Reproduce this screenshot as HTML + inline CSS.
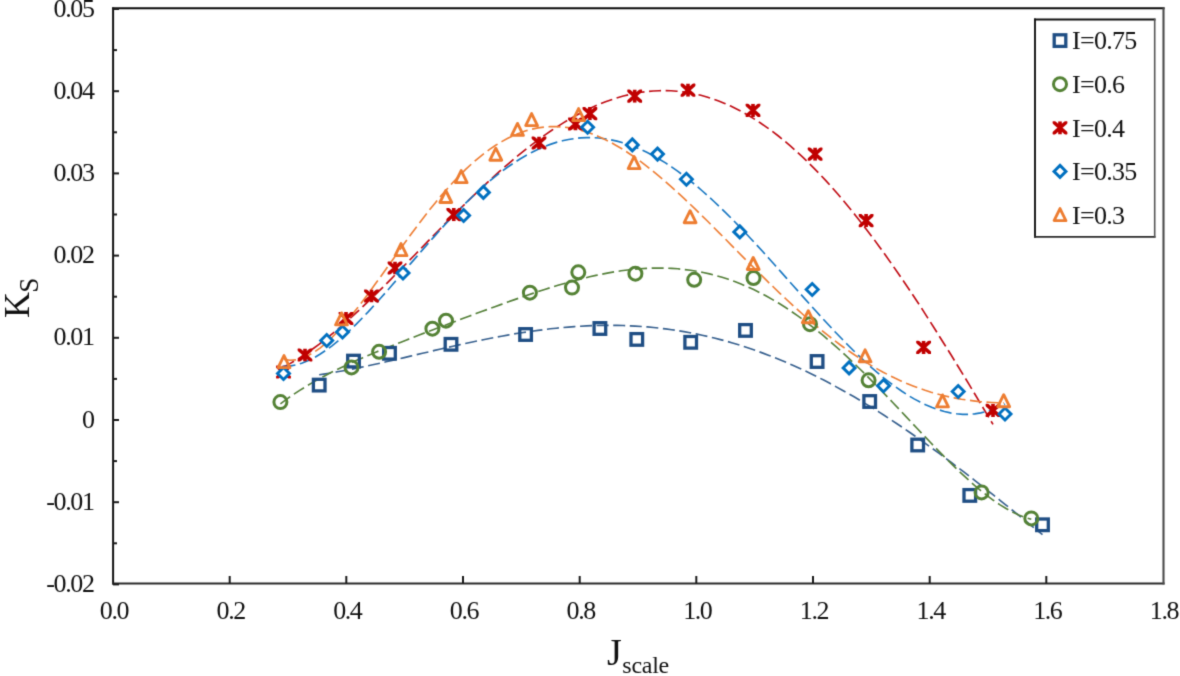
<!DOCTYPE html>
<html><head><meta charset="utf-8"><style>
html,body{margin:0;padding:0;background:#fff;}
body{width:1180px;height:676px;overflow:hidden;}
svg{display:block;}
.t{font-family:"Liberation Serif",serif;font-size:26px;fill:#111;letter-spacing:-1.4px;}
.lg{letter-spacing:-0.7px;}
.sub{font-family:"Liberation Serif",serif;font-size:24px;fill:#111;}
.big{font-family:"Liberation Serif",serif;font-size:36px;fill:#111;}
</style></head><body>
<svg width="1180" height="676" viewBox="0 0 1180 676">
<defs><clipPath id="cb" clipPathUnits="objectBoundingBox"><rect x="0" y="0" width="1" height="1"/></clipPath>
<filter id="bl" x="0" y="0" width="1180" height="676" filterUnits="userSpaceOnUse" color-interpolation-filters="sRGB"><feConvolveMatrix order="3" kernelMatrix="0.019 0.1 0.019 0.1 0.524 0.1 0.019 0.1 0.019" edgeMode="duplicate"/></filter></defs>
<g filter="url(#bl)"><rect width="1180" height="676" fill="#fff"/>
<path d="M112.1,8.3 H1164.6" stroke="#0a0a0a" stroke-width="1.9"/>
<path d="M113.1,7.4 V584.5" stroke="#111" stroke-width="2"/>
<path d="M112.1,583.5 H1164.6" stroke="#2a2a2a" stroke-width="2"/>
<path d="M1163.5,7.4 V584.5" stroke="#4a4a4a" stroke-width="2.1"/>
<line x1="113" y1="9.0" x2="119" y2="9.0" stroke="#1a1a1a" stroke-width="2"/>
<line x1="113" y1="50.1" x2="117" y2="50.1" stroke="#1a1a1a" stroke-width="2"/>
<line x1="113" y1="91.2" x2="119" y2="91.2" stroke="#1a1a1a" stroke-width="2"/>
<line x1="113" y1="132.3" x2="117" y2="132.3" stroke="#1a1a1a" stroke-width="2"/>
<line x1="113" y1="173.4" x2="119" y2="173.4" stroke="#1a1a1a" stroke-width="2"/>
<line x1="113" y1="214.5" x2="117" y2="214.5" stroke="#1a1a1a" stroke-width="2"/>
<line x1="113" y1="255.6" x2="119" y2="255.6" stroke="#1a1a1a" stroke-width="2"/>
<line x1="113" y1="296.7" x2="117" y2="296.7" stroke="#1a1a1a" stroke-width="2"/>
<line x1="113" y1="337.8" x2="119" y2="337.8" stroke="#1a1a1a" stroke-width="2"/>
<line x1="113" y1="378.9" x2="117" y2="378.9" stroke="#1a1a1a" stroke-width="2"/>
<line x1="113" y1="420.0" x2="119" y2="420.0" stroke="#1a1a1a" stroke-width="2"/>
<line x1="113" y1="461.1" x2="117" y2="461.1" stroke="#1a1a1a" stroke-width="2"/>
<line x1="113" y1="502.2" x2="119" y2="502.2" stroke="#1a1a1a" stroke-width="2"/>
<line x1="113" y1="543.3" x2="117" y2="543.3" stroke="#1a1a1a" stroke-width="2"/>
<line x1="113" y1="584.4" x2="119" y2="584.4" stroke="#1a1a1a" stroke-width="2"/>
<line x1="229.7" y1="583.5" x2="229.7" y2="576" stroke="#1a1a1a" stroke-width="2"/>
<line x1="346.3" y1="583.5" x2="346.3" y2="576" stroke="#1a1a1a" stroke-width="2"/>
<line x1="463.0" y1="583.5" x2="463.0" y2="576" stroke="#1a1a1a" stroke-width="2"/>
<line x1="579.7" y1="583.5" x2="579.7" y2="576" stroke="#1a1a1a" stroke-width="2"/>
<line x1="696.3" y1="583.5" x2="696.3" y2="576" stroke="#1a1a1a" stroke-width="2"/>
<line x1="813.0" y1="583.5" x2="813.0" y2="576" stroke="#1a1a1a" stroke-width="2"/>
<line x1="929.7" y1="583.5" x2="929.7" y2="576" stroke="#1a1a1a" stroke-width="2"/>
<line x1="1046.3" y1="583.5" x2="1046.3" y2="576" stroke="#1a1a1a" stroke-width="2"/>
<path d="M319.2,374.8 L325.3,373.9 L331.4,372.9 L337.4,371.8 L343.5,370.7 L349.6,369.6 L355.7,368.4 L361.7,367.1 L367.8,365.8 L373.9,364.5 L380.0,363.2 L386.1,361.8 L392.1,360.4 L398.2,359.0 L404.3,357.6 L410.4,356.1 L416.5,354.7 L422.5,353.3 L428.6,351.9 L434.7,350.4 L440.8,349.0 L446.8,347.6 L452.9,346.3 L459.0,344.9 L465.1,343.6 L471.2,342.2 L477.2,341.0 L483.3,339.7 L489.4,338.5 L495.5,337.3 L501.5,336.2 L507.6,335.1 L513.7,334.0 L519.8,333.0 L525.9,332.1 L531.9,331.2 L538.0,330.4 L544.1,329.6 L550.2,328.8 L556.2,328.2 L562.3,327.6 L568.4,327.1 L574.5,326.6 L580.6,326.2 L586.6,325.9 L592.7,325.6 L598.8,325.5 L604.9,325.4 L611.0,325.3 L617.0,325.4 L623.1,325.5 L629.2,325.8 L635.3,326.1 L641.3,326.5 L647.4,326.9 L653.5,327.5 L659.6,328.2 L665.7,328.9 L671.7,329.7 L677.8,330.6 L683.9,331.6 L690.0,332.7 L696.0,333.9 L702.1,335.2 L708.2,336.6 L714.3,338.0 L720.4,339.6 L726.4,341.2 L732.5,343.0 L738.6,344.8 L744.7,346.8 L750.7,348.8 L756.8,350.9 L762.9,353.1 L769.0,355.4 L775.1,357.8 L781.1,360.3 L787.2,362.8 L793.3,365.5 L799.4,368.2 L805.5,371.1 L811.5,374.0 L817.6,377.0 L823.7,380.1 L829.8,383.3 L835.8,386.6 L841.9,389.9 L848.0,393.3 L854.1,396.8 L860.2,400.4 L866.2,404.1 L872.3,407.8 L878.4,411.6 L884.5,415.5 L890.5,419.5 L896.6,423.5 L902.7,427.6 L908.8,431.8 L914.9,436.0 L920.9,440.2 L927.0,444.6 L933.1,449.0 L939.2,453.4 L945.2,457.9 L951.3,462.5 L957.4,467.1 L963.5,471.7 L969.6,476.4 L975.6,481.1 L981.7,485.8 L987.8,490.6 L993.9,495.4 L1000.0,500.3 L1006.0,505.1 L1012.1,510.0 L1018.2,514.9 L1024.3,519.8 L1030.3,524.8 L1036.4,529.7 L1042.5,534.6" fill="none" stroke="#38618f" stroke-width="1.65" stroke-dasharray="12 4.6"/>
<path d="M280.4,403.8 L286.7,399.1 L293.0,394.8 L299.3,390.6 L305.6,386.7 L312.0,382.9 L318.3,379.3 L324.6,375.9 L330.9,372.6 L337.2,369.5 L343.5,366.4 L349.8,363.5 L356.1,360.6 L362.4,357.9 L368.7,355.2 L375.1,352.5 L381.4,349.9 L387.7,347.4 L394.0,344.9 L400.3,342.4 L406.6,339.9 L412.9,337.5 L419.2,335.0 L425.5,332.6 L431.8,330.2 L438.2,327.8 L444.5,325.5 L450.8,323.1 L457.1,320.7 L463.4,318.3 L469.7,316.0 L476.0,313.6 L482.3,311.3 L488.6,309.0 L494.9,306.7 L501.3,304.4 L507.6,302.1 L513.9,299.9 L520.2,297.7 L526.5,295.5 L532.8,293.4 L539.1,291.3 L545.4,289.2 L551.7,287.2 L558.0,285.3 L564.4,283.5 L570.7,281.7 L577.0,280.0 L583.3,278.4 L589.6,276.8 L595.9,275.4 L602.2,274.1 L608.5,272.9 L614.8,271.8 L621.1,270.8 L627.5,270.0 L633.8,269.3 L640.1,268.8 L646.4,268.4 L652.7,268.1 L659.0,268.0 L665.3,268.1 L671.6,268.4 L677.9,268.8 L684.2,269.5 L690.6,270.3 L696.9,271.3 L703.2,272.5 L709.5,273.9 L715.8,275.5 L722.1,277.3 L728.4,279.3 L734.7,281.6 L741.0,284.0 L747.3,286.7 L753.7,289.6 L760.0,292.7 L766.3,296.0 L772.6,299.6 L778.9,303.3 L785.2,307.3 L791.5,311.5 L797.8,315.9 L804.1,320.5 L810.4,325.3 L816.8,330.2 L823.1,335.4 L829.4,340.8 L835.7,346.3 L842.0,352.0 L848.3,357.9 L854.6,363.9 L860.9,370.0 L867.2,376.2 L873.5,382.6 L879.9,389.1 L886.2,395.6 L892.5,402.2 L898.8,408.9 L905.1,415.6 L911.4,422.3 L917.7,429.0 L924.0,435.7 L930.3,442.3 L936.6,448.9 L943.0,455.4 L949.3,461.7 L955.6,467.9 L961.9,473.9 L968.2,479.7 L974.5,485.3 L980.8,490.6 L987.1,495.6 L993.4,500.3 L999.7,504.6 L1006.1,508.5 L1012.4,512.0 L1018.7,515.0 L1025.0,517.4 L1031.3,519.3" fill="none" stroke="#55803a" stroke-width="1.65" stroke-dasharray="12 4.6"/>
<path d="M283.5,367.1 L289.5,363.9 L295.4,360.4 L301.4,356.7 L307.3,352.7 L313.3,348.5 L319.3,344.1 L325.2,339.5 L331.2,334.7 L337.2,329.8 L343.1,324.6 L349.1,319.4 L355.0,313.9 L361.0,308.4 L367.0,302.7 L372.9,297.0 L378.9,291.2 L384.9,285.3 L390.8,279.3 L396.8,273.2 L402.7,267.2 L408.7,261.1 L414.7,255.0 L420.6,248.8 L426.6,242.7 L432.6,236.6 L438.5,230.5 L444.5,224.4 L450.4,218.4 L456.4,212.4 L462.4,206.5 L468.3,200.7 L474.3,194.9 L480.3,189.2 L486.2,183.6 L492.2,178.1 L498.1,172.7 L504.1,167.5 L510.1,162.3 L516.0,157.3 L522.0,152.4 L527.9,147.7 L533.9,143.1 L539.9,138.7 L545.8,134.4 L551.8,130.3 L557.8,126.4 L563.7,122.6 L569.7,119.0 L575.6,115.7 L581.6,112.5 L587.6,109.5 L593.5,106.7 L599.5,104.2 L605.5,101.8 L611.4,99.7 L617.4,97.7 L623.3,96.0 L629.3,94.6 L635.3,93.3 L641.2,92.3 L647.2,91.5 L653.2,91.0 L659.1,90.7 L665.1,90.6 L671.0,90.8 L677.0,91.2 L683.0,91.9 L688.9,92.8 L694.9,93.9 L700.9,95.3 L706.8,97.0 L712.8,98.9 L718.7,101.0 L724.7,103.4 L730.7,106.1 L736.6,109.0 L742.6,112.1 L748.6,115.5 L754.5,119.1 L760.5,123.0 L766.4,127.1 L772.4,131.4 L778.4,136.0 L784.3,140.8 L790.3,145.9 L796.2,151.2 L802.2,156.7 L808.2,162.4 L814.1,168.4 L820.1,174.5 L826.1,180.9 L832.0,187.5 L838.0,194.3 L843.9,201.3 L849.9,208.5 L855.9,215.9 L861.8,223.4 L867.8,231.2 L873.8,239.1 L879.7,247.2 L885.7,255.5 L891.6,263.9 L897.6,272.5 L903.6,281.2 L909.5,290.0 L915.5,299.0 L921.5,308.1 L927.4,317.4 L933.4,326.7 L939.3,336.2 L945.3,345.7 L951.3,355.3 L957.2,365.0 L963.2,374.8 L969.2,384.6 L975.1,394.5 L981.1,404.5 L987.0,414.4 L993.0,424.4" fill="none" stroke="#c00d15" stroke-width="1.65" stroke-dasharray="12 4.6"/>
<path d="M283.5,366.4 L289.6,366.1 L295.6,365.0 L301.7,363.2 L307.8,360.8 L313.8,357.9 L319.9,354.3 L325.9,350.3 L332.0,345.8 L338.1,340.9 L344.1,335.6 L350.2,330.0 L356.3,324.1 L362.3,318.0 L368.4,311.6 L374.4,305.0 L380.5,298.3 L386.6,291.5 L392.6,284.5 L398.7,277.5 L404.8,270.5 L410.8,263.4 L416.9,256.4 L422.9,249.4 L429.0,242.5 L435.1,235.6 L441.1,228.9 L447.2,222.3 L453.3,215.8 L459.3,209.5 L465.4,203.4 L471.5,197.5 L477.5,191.8 L483.6,186.3 L489.6,181.1 L495.7,176.1 L501.8,171.4 L507.8,167.0 L513.9,162.9 L520.0,159.0 L526.0,155.5 L532.1,152.2 L538.1,149.3 L544.2,146.7 L550.3,144.4 L556.3,142.4 L562.4,140.8 L568.5,139.5 L574.5,138.6 L580.6,137.9 L586.7,137.6 L592.7,137.7 L598.8,138.0 L604.8,138.7 L610.9,139.8 L617.0,141.1 L623.0,142.8 L629.1,144.8 L635.2,147.1 L641.2,149.7 L647.3,152.5 L653.3,155.7 L659.4,159.2 L665.5,162.9 L671.5,166.9 L677.6,171.2 L683.7,175.7 L689.7,180.4 L695.8,185.3 L701.8,190.5 L707.9,195.9 L714.0,201.5 L720.0,207.2 L726.1,213.1 L732.2,219.2 L738.2,225.4 L744.3,231.7 L750.4,238.2 L756.4,244.7 L762.5,251.3 L768.5,258.0 L774.6,264.8 L780.7,271.6 L786.7,278.4 L792.8,285.2 L798.9,292.1 L804.9,298.9 L811.0,305.6 L817.0,312.3 L823.1,319.0 L829.2,325.5 L835.2,332.0 L841.3,338.3 L847.4,344.5 L853.4,350.5 L859.5,356.4 L865.6,362.1 L871.6,367.6 L877.7,372.8 L883.7,377.9 L889.8,382.6 L895.9,387.1 L901.9,391.3 L908.0,395.3 L914.1,398.9 L920.1,402.1 L926.2,405.0 L932.2,407.6 L938.3,409.7 L944.4,411.5 L950.4,412.9 L956.5,413.8 L962.6,414.3 L968.6,414.3 L974.7,413.9 L980.7,412.9 L986.8,411.5 L992.9,409.6 L998.9,407.1 L1005.0,404.1" fill="none" stroke="#1a78c2" stroke-width="1.65" stroke-dasharray="12 4.6"/>
<path d="M284.0,359.4 L290.0,360.2 L296.1,359.8 L302.1,358.2 L308.2,355.6 L314.2,352.1 L320.3,347.8 L326.3,342.7 L332.4,337.0 L338.4,330.7 L344.5,323.9 L350.5,316.6 L356.6,309.1 L362.6,301.2 L368.7,293.1 L374.7,284.8 L380.8,276.4 L386.8,267.9 L392.9,259.4 L398.9,251.0 L405.0,242.6 L411.0,234.3 L417.1,226.1 L423.1,218.2 L429.1,210.4 L435.2,202.9 L441.2,195.6 L447.3,188.7 L453.3,182.0 L459.4,175.7 L465.4,169.7 L471.5,164.0 L477.5,158.8 L483.6,153.9 L489.6,149.4 L495.7,145.3 L501.7,141.6 L507.8,138.3 L513.8,135.4 L519.9,132.9 L525.9,130.8 L532.0,129.2 L538.0,127.9 L544.1,127.1 L550.1,126.6 L556.2,126.6 L562.2,126.9 L568.3,127.6 L574.3,128.7 L580.3,130.1 L586.4,131.9 L592.4,134.0 L598.5,136.5 L604.5,139.2 L610.6,142.3 L616.6,145.7 L622.7,149.3 L628.7,153.2 L634.8,157.3 L640.8,161.7 L646.9,166.3 L652.9,171.1 L659.0,176.1 L665.0,181.2 L671.1,186.6 L677.1,192.0 L683.2,197.6 L689.2,203.3 L695.3,209.2 L701.3,215.1 L707.4,221.0 L713.4,227.1 L719.4,233.1 L725.5,239.2 L731.5,245.3 L737.6,251.5 L743.6,257.6 L749.7,263.7 L755.7,269.7 L761.8,275.7 L767.8,281.7 L773.9,287.5 L779.9,293.3 L786.0,299.0 L792.0,304.6 L798.1,310.1 L804.1,315.5 L810.2,320.8 L816.2,325.9 L822.3,330.9 L828.3,335.7 L834.4,340.4 L840.4,345.0 L846.5,349.3 L852.5,353.5 L858.6,357.6 L864.6,361.4 L870.6,365.1 L876.7,368.6 L882.7,372.0 L888.8,375.1 L894.8,378.1 L900.9,380.9 L906.9,383.5 L913.0,385.9 L919.0,388.2 L925.1,390.3 L931.1,392.2 L937.2,393.9 L943.2,395.5 L949.3,396.9 L955.3,398.1 L961.4,399.2 L967.4,400.1 L973.5,400.9 L979.5,401.6 L985.6,402.1 L991.6,402.5 L997.7,402.8 L1003.7,402.9" fill="none" stroke="#ee7f36" stroke-width="1.65" stroke-dasharray="12 4.6"/>
<rect x="313.4" y="379.3" width="11.6" height="11.6" fill="none" stroke="#1f4e84" stroke-width="3.3"/>
<rect x="347.7" y="355.3" width="11.6" height="11.6" fill="none" stroke="#1f4e84" stroke-width="3.3"/>
<rect x="383.7" y="347.5" width="11.6" height="11.6" fill="none" stroke="#1f4e84" stroke-width="3.3"/>
<rect x="445.2" y="338.5" width="11.6" height="11.6" fill="none" stroke="#1f4e84" stroke-width="3.3"/>
<rect x="519.8" y="328.7" width="11.6" height="11.6" fill="none" stroke="#1f4e84" stroke-width="3.3"/>
<rect x="594.1" y="322.7" width="11.6" height="11.6" fill="none" stroke="#1f4e84" stroke-width="3.3"/>
<rect x="631.0" y="333.6" width="11.6" height="11.6" fill="none" stroke="#1f4e84" stroke-width="3.3"/>
<rect x="684.9" y="336.5" width="11.6" height="11.6" fill="none" stroke="#1f4e84" stroke-width="3.3"/>
<rect x="739.7" y="324.6" width="11.6" height="11.6" fill="none" stroke="#1f4e84" stroke-width="3.3"/>
<rect x="811.3" y="355.7" width="11.6" height="11.6" fill="none" stroke="#1f4e84" stroke-width="3.3"/>
<rect x="863.9" y="395.7" width="11.6" height="11.6" fill="none" stroke="#1f4e84" stroke-width="3.3"/>
<rect x="911.9" y="439.2" width="11.6" height="11.6" fill="none" stroke="#1f4e84" stroke-width="3.3"/>
<rect x="964.0" y="489.6" width="11.6" height="11.6" fill="none" stroke="#1f4e84" stroke-width="3.3"/>
<rect x="1036.7" y="519.0" width="11.6" height="11.6" fill="none" stroke="#1f4e84" stroke-width="3.3"/>
<circle cx="280.4" cy="402.1" r="6.5" fill="none" stroke="#548235" stroke-width="3"/>
<circle cx="351.5" cy="367.4" r="6.5" fill="none" stroke="#548235" stroke-width="3"/>
<circle cx="379.1" cy="351.8" r="6.5" fill="none" stroke="#548235" stroke-width="3"/>
<circle cx="432.4" cy="328.7" r="6.5" fill="none" stroke="#548235" stroke-width="3"/>
<circle cx="446.0" cy="320.7" r="6.5" fill="none" stroke="#548235" stroke-width="3"/>
<circle cx="529.9" cy="292.7" r="6.5" fill="none" stroke="#548235" stroke-width="3"/>
<circle cx="572.0" cy="287.6" r="6.5" fill="none" stroke="#548235" stroke-width="3"/>
<circle cx="578.3" cy="272.3" r="6.5" fill="none" stroke="#548235" stroke-width="3"/>
<circle cx="635.4" cy="273.7" r="6.5" fill="none" stroke="#548235" stroke-width="3"/>
<circle cx="694.2" cy="279.8" r="6.5" fill="none" stroke="#548235" stroke-width="3"/>
<circle cx="753.5" cy="278.0" r="6.5" fill="none" stroke="#548235" stroke-width="3"/>
<circle cx="810.0" cy="324.2" r="6.5" fill="none" stroke="#548235" stroke-width="3"/>
<circle cx="868.6" cy="380.3" r="6.5" fill="none" stroke="#548235" stroke-width="3"/>
<circle cx="981.6" cy="492.4" r="6.5" fill="none" stroke="#548235" stroke-width="3"/>
<circle cx="1031.3" cy="518.4" r="6.5" fill="none" stroke="#548235" stroke-width="3"/>
<path clip-path="url(#cb)" d="M276.1,365.4 L290.9,378.6 M290.9,365.4 L276.1,378.6 M283.5,365.4 L283.5,378.6" stroke="#c00000" stroke-width="3.6" fill="none"/>
<path clip-path="url(#cb)" d="M297.6,348.4 L312.4,361.6 M312.4,348.4 L297.6,361.6 M305.0,348.4 L305.0,361.6" stroke="#c00000" stroke-width="3.6" fill="none"/>
<path clip-path="url(#cb)" d="M338.6,311.9 L353.4,325.1 M353.4,311.9 L338.6,325.1 M346.0,311.9 L346.0,325.1" stroke="#c00000" stroke-width="3.6" fill="none"/>
<path clip-path="url(#cb)" d="M364.1,289.4 L378.9,302.6 M378.9,289.4 L364.1,302.6 M371.5,289.4 L371.5,302.6" stroke="#c00000" stroke-width="3.6" fill="none"/>
<path clip-path="url(#cb)" d="M387.6,261.4 L402.4,274.6 M402.4,261.4 L387.6,274.6 M395.0,261.4 L395.0,274.6" stroke="#c00000" stroke-width="3.6" fill="none"/>
<path clip-path="url(#cb)" d="M446.4,208.0 L461.2,221.2 M461.2,208.0 L446.4,221.2 M453.8,208.0 L453.8,221.2" stroke="#c00000" stroke-width="3.6" fill="none"/>
<path clip-path="url(#cb)" d="M531.6,136.4 L546.4,149.6 M546.4,136.4 L531.6,149.6 M539.0,136.4 L539.0,149.6" stroke="#c00000" stroke-width="3.6" fill="none"/>
<path clip-path="url(#cb)" d="M568.1,117.4 L582.9,130.6 M582.9,117.4 L568.1,130.6 M575.5,117.4 L575.5,130.6" stroke="#c00000" stroke-width="3.6" fill="none"/>
<path clip-path="url(#cb)" d="M582.5,107.1 L597.3,120.3 M597.3,107.1 L582.5,120.3 M589.9,107.1 L589.9,120.3" stroke="#c00000" stroke-width="3.6" fill="none"/>
<path clip-path="url(#cb)" d="M627.3,89.5 L642.1,102.7 M642.1,89.5 L627.3,102.7 M634.7,89.5 L634.7,102.7" stroke="#c00000" stroke-width="3.6" fill="none"/>
<path clip-path="url(#cb)" d="M680.6,83.6 L695.4,96.8 M695.4,83.6 L680.6,96.8 M688.0,83.6 L688.0,96.8" stroke="#c00000" stroke-width="3.6" fill="none"/>
<path clip-path="url(#cb)" d="M745.6,103.7 L760.4,116.9 M760.4,103.7 L745.6,116.9 M753.0,103.7 L753.0,116.9" stroke="#c00000" stroke-width="3.6" fill="none"/>
<path clip-path="url(#cb)" d="M807.7,147.5 L822.5,160.7 M822.5,147.5 L807.7,160.7 M815.1,147.5 L815.1,160.7" stroke="#c00000" stroke-width="3.6" fill="none"/>
<path clip-path="url(#cb)" d="M858.7,214.0 L873.5,227.2 M873.5,214.0 L858.7,227.2 M866.1,214.0 L866.1,227.2" stroke="#c00000" stroke-width="3.6" fill="none"/>
<path clip-path="url(#cb)" d="M916.2,340.7 L931.0,353.9 M931.0,340.7 L916.2,353.9 M923.6,340.7 L923.6,353.9" stroke="#c00000" stroke-width="3.6" fill="none"/>
<path clip-path="url(#cb)" d="M985.6,403.8 L1000.4,417.0 M1000.4,403.8 L985.6,417.0 M993.0,403.8 L993.0,417.0" stroke="#c00000" stroke-width="3.6" fill="none"/>
<path d="M283.5,367.5 L289.5,373.5 L283.5,379.5 L277.5,373.5 Z" fill="#fff" stroke="#0070c0" stroke-width="2.9"/>
<path d="M326.7,334.5 L332.7,340.5 L326.7,346.5 L320.7,340.5 Z" fill="#fff" stroke="#0070c0" stroke-width="2.9"/>
<path d="M342.5,326.0 L348.5,332.0 L342.5,338.0 L336.5,332.0 Z" fill="#fff" stroke="#0070c0" stroke-width="2.9"/>
<path d="M403.0,267.0 L409.0,273.0 L403.0,279.0 L397.0,273.0 Z" fill="#fff" stroke="#0070c0" stroke-width="2.9"/>
<path d="M463.6,209.5 L469.6,215.5 L463.6,221.5 L457.6,215.5 Z" fill="#fff" stroke="#0070c0" stroke-width="2.9"/>
<path d="M483.4,186.4 L489.4,192.4 L483.4,198.4 L477.4,192.4 Z" fill="#fff" stroke="#0070c0" stroke-width="2.9"/>
<path d="M587.6,121.3 L593.6,127.3 L587.6,133.3 L581.6,127.3 Z" fill="#fff" stroke="#0070c0" stroke-width="2.9"/>
<path d="M632.3,138.9 L638.3,144.9 L632.3,150.9 L626.3,144.9 Z" fill="#fff" stroke="#0070c0" stroke-width="2.9"/>
<path d="M657.5,148.1 L663.5,154.1 L657.5,160.1 L651.5,154.1 Z" fill="#fff" stroke="#0070c0" stroke-width="2.9"/>
<path d="M686.4,173.2 L692.4,179.2 L686.4,185.2 L680.4,179.2 Z" fill="#fff" stroke="#0070c0" stroke-width="2.9"/>
<path d="M739.8,225.9 L745.8,231.9 L739.8,237.9 L733.8,231.9 Z" fill="#fff" stroke="#0070c0" stroke-width="2.9"/>
<path d="M812.2,283.5 L818.2,289.5 L812.2,295.5 L806.2,289.5 Z" fill="#fff" stroke="#0070c0" stroke-width="2.9"/>
<path d="M849.1,361.9 L855.1,367.9 L849.1,373.9 L843.1,367.9 Z" fill="#fff" stroke="#0070c0" stroke-width="2.9"/>
<path d="M883.5,379.7 L889.5,385.7 L883.5,391.7 L877.5,385.7 Z" fill="#fff" stroke="#0070c0" stroke-width="2.9"/>
<path d="M958.2,385.5 L964.2,391.5 L958.2,397.5 L952.2,391.5 Z" fill="#fff" stroke="#0070c0" stroke-width="2.9"/>
<path d="M1005.0,408.0 L1011.0,414.0 L1005.0,420.0 L999.0,414.0 Z" fill="#fff" stroke="#0070c0" stroke-width="2.9"/>
<path d="M284.0,355.6 L289.9,367.6 L278.1,367.6 Z" fill="none" stroke="#ed7d31" stroke-width="2.9" stroke-linejoin="round"/>
<path d="M341.5,312.9 L347.4,324.9 L335.6,324.9 Z" fill="none" stroke="#ed7d31" stroke-width="2.9" stroke-linejoin="round"/>
<path d="M401.0,243.6 L406.9,255.6 L395.1,255.6 Z" fill="none" stroke="#ed7d31" stroke-width="2.9" stroke-linejoin="round"/>
<path d="M445.8,190.5 L451.7,202.5 L439.9,202.5 Z" fill="none" stroke="#ed7d31" stroke-width="2.9" stroke-linejoin="round"/>
<path d="M461.2,170.6 L467.1,182.6 L455.3,182.6 Z" fill="none" stroke="#ed7d31" stroke-width="2.9" stroke-linejoin="round"/>
<path d="M495.8,148.2 L501.7,160.2 L489.9,160.2 Z" fill="none" stroke="#ed7d31" stroke-width="2.9" stroke-linejoin="round"/>
<path d="M517.5,123.4 L523.4,135.4 L511.6,135.4 Z" fill="none" stroke="#ed7d31" stroke-width="2.9" stroke-linejoin="round"/>
<path d="M531.6,113.6 L537.5,125.6 L525.7,125.6 Z" fill="none" stroke="#ed7d31" stroke-width="2.9" stroke-linejoin="round"/>
<path d="M578.6,108.6 L584.5,120.6 L572.7,120.6 Z" fill="none" stroke="#ed7d31" stroke-width="2.9" stroke-linejoin="round"/>
<path d="M634.1,156.6 L640.0,168.6 L628.2,168.6 Z" fill="none" stroke="#ed7d31" stroke-width="2.9" stroke-linejoin="round"/>
<path d="M690.1,210.7 L696.0,222.7 L684.2,222.7 Z" fill="none" stroke="#ed7d31" stroke-width="2.9" stroke-linejoin="round"/>
<path d="M753.2,257.5 L759.1,269.5 L747.3,269.5 Z" fill="none" stroke="#ed7d31" stroke-width="2.9" stroke-linejoin="round"/>
<path d="M808.3,310.7 L814.2,322.7 L802.4,322.7 Z" fill="none" stroke="#ed7d31" stroke-width="2.9" stroke-linejoin="round"/>
<path d="M865.1,349.8 L871.0,361.8 L859.2,361.8 Z" fill="none" stroke="#ed7d31" stroke-width="2.9" stroke-linejoin="round"/>
<path d="M942.5,394.9 L948.4,406.9 L936.6,406.9 Z" fill="none" stroke="#ed7d31" stroke-width="2.9" stroke-linejoin="round"/>
<path d="M1003.7,394.7 L1009.6,406.7 L997.8,406.7 Z" fill="none" stroke="#ed7d31" stroke-width="2.9" stroke-linejoin="round"/>
<rect x="1035" y="19.5" width="119.7" height="217.3" fill="#fff"/>
<path d="M1034,19.5 H1155.5" stroke="#111" stroke-width="1.8"/>
<path d="M1035,18.6 V237.7" stroke="#111" stroke-width="1.9"/>
<path d="M1034,236.8 H1155.5" stroke="#2a2a2a" stroke-width="1.8"/>
<path d="M1154.7,18.6 V237.7" stroke="#555" stroke-width="1.6"/>
<rect x="1054.2" y="34.8" width="11.6" height="11.6" fill="none" stroke="#1f4e84" stroke-width="3.3"/>
<text x="1072" y="49.4" class="t lg">I=0.75</text>
<circle cx="1060.0" cy="84.2" r="6.5" fill="none" stroke="#548235" stroke-width="3"/>
<text x="1072" y="93.0" class="t lg">I=0.6</text>
<path clip-path="url(#cb)" d="M1052.6,121.2 L1067.4,134.4 M1067.4,121.2 L1052.6,134.4 M1060.0,121.2 L1060.0,134.4" stroke="#c00000" stroke-width="3.6" fill="none"/>
<text x="1072" y="136.6" class="t lg">I=0.4</text>
<path d="M1060.0,165.4 L1066.0,171.4 L1060.0,177.4 L1054.0,171.4 Z" fill="#fff" stroke="#0070c0" stroke-width="2.9"/>
<text x="1072" y="180.2" class="t lg">I=0.35</text>
<path d="M1060.0,208.6 L1065.9,220.6 L1054.1,220.6 Z" fill="none" stroke="#ed7d31" stroke-width="2.9" stroke-linejoin="round"/>
<text x="1072" y="223.8" class="t lg">I=0.3</text>
<text x="93.5" y="16.6" class="t" text-anchor="end">0.05</text>
<text x="93.5" y="98.8" class="t" text-anchor="end">0.04</text>
<text x="93.5" y="181.0" class="t" text-anchor="end">0.03</text>
<text x="93.5" y="263.2" class="t" text-anchor="end">0.02</text>
<text x="93.5" y="345.4" class="t" text-anchor="end">0.01</text>
<text x="93.5" y="427.6" class="t" text-anchor="end">0</text>
<text x="93.5" y="509.8" class="t" text-anchor="end">-0.01</text>
<text x="93.5" y="592.0" class="t" text-anchor="end">-0.02</text>
<text x="114.0" y="618.7" class="t" text-anchor="middle">0.0</text>
<text x="230.7" y="618.7" class="t" text-anchor="middle">0.2</text>
<text x="347.3" y="618.7" class="t" text-anchor="middle">0.4</text>
<text x="464.0" y="618.7" class="t" text-anchor="middle">0.6</text>
<text x="580.7" y="618.7" class="t" text-anchor="middle">0.8</text>
<text x="697.3" y="618.7" class="t" text-anchor="middle">1.0</text>
<text x="814.0" y="618.7" class="t" text-anchor="middle">1.2</text>
<text x="930.7" y="618.7" class="t" text-anchor="middle">1.4</text>
<text x="1047.3" y="618.7" class="t" text-anchor="middle">1.6</text>
<text x="1164.0" y="618.7" class="t" text-anchor="middle">1.8</text>
<text x="607" y="665.3" class="big" style="font-size:38px">J</text><text x="622.3" y="673" class="sub" style="letter-spacing:-0.25px">scale</text>
<g transform="translate(29,318) rotate(-90)"><text x="0" y="0" class="big">K</text><text x="25.3" y="9.3" class="sub" style="font-size:27px">S</text></g>
</g></svg>
</body></html>
